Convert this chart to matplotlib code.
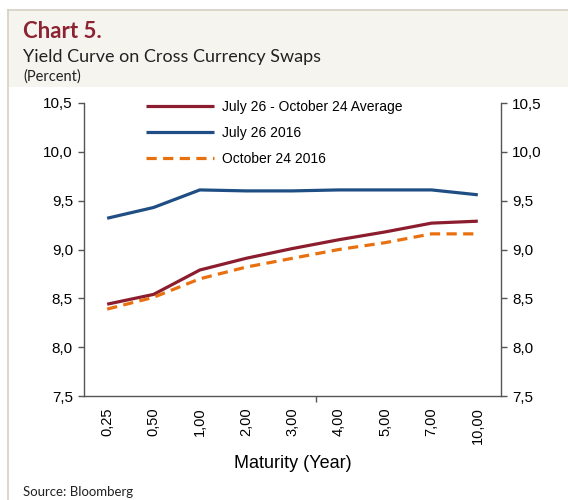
import matplotlib
matplotlib.use("Agg")
import matplotlib.pyplot as plt
from matplotlib.ticker import FuncFormatter
from matplotlib.patches import Rectangle
from matplotlib.lines import Line2D
import numpy as np

categories = ["0,25", "0,50", "1,00", "2,00", "3,00", "4,00", "5,00", "7,00", "10,00"]
avg_values = [8.44, 8.54, 8.79, 8.91, 9.01, 9.10, 9.18, 9.27, 9.29]
jul26_values = [9.32, 9.43, 9.61, 9.60, 9.60, 9.61, 9.61, 9.61, 9.56]
oct24_values = [8.39, 8.51, 8.70, 8.82, 8.91, 9.00, 9.07, 9.16, 9.16]
series_labels = ["July 26 - October 24 Average", "July 26 2016", "October 24 2016"]
y_ticks = [7.5, 8.0, 8.5, 9.0, 9.5, 10.0, 10.5]

plt.rcParams['font.family'] = ['Liberation Sans', 'DejaVu Sans']

W, H = 568, 500
fig = plt.figure(figsize=(W / 100, H / 100), dpi=100)
fig.patch.set_facecolor("white")

def fx(px):
    return px / W

def fy(py):
    return 1 - py / H

# background panels
beige = "#f6f4ee"
fig.add_artist(Rectangle((fx(8), fy(87)), fx(560), fy(10) - fy(87), transform=fig.transFigure,
                         facecolor=beige, edgecolor="none", zorder=0))
fig.add_artist(Line2D([fx(7.5), fx(7.5)], [fy(10), 0], transform=fig.transFigure,
                      color="#d6cfc3", lw=1.2))
fig.add_artist(Line2D([fx(7.5), 1], [fy(10), fy(10)], transform=fig.transFigure,
                      color="#d6cfc3", lw=1.2))

# titles
title_font = ["Lato", "DejaVu Sans"]
fig.text(fx(23), fy(31), "Chart 5.", color="#8c2232", fontsize=16, fontweight="bold",
         family=title_font, va="center", ha="left")
fig.text(fx(23), fy(57), "Yield Curve on Cross Currency Swaps", color="#222222", fontsize=13,
         family=title_font, va="center", ha="left")
fig.text(fx(23), fy(77), "(Percent)", color="#222222", fontsize=10.5,
         family=title_font, va="center", ha="left")
fig.text(fx(23), fy(492), "Source: Bloomberg", color="#222222", fontsize=9.5,
         family=title_font, va="center", ha="left")

ax = fig.add_axes([fx(84), fy(396), fx(501) - fx(84), fy(103) - fy(396)])
ax.set_facecolor("none")
x = np.arange(len(categories))

ax.plot(x, avg_values, color="#8c1d2e", lw=2.3, label=series_labels[0], solid_capstyle="butt")
ax.plot(x, jul26_values, color="#1f4e85", lw=2.3, label=series_labels[1], solid_capstyle="butt")
ax.plot(x, oct24_values, color="#e8700f", lw=2.3, ls=(0, (3.2, 2.0)), label=series_labels[2])

ax.set_xlim(-0.5, len(categories) - 0.5)
ax.set_ylim(7.5, 10.5)
ax.set_yticks(y_ticks)
fmt = FuncFormatter(lambda v, p: f"{v:.1f}".replace(".", ","))
ax.yaxis.set_major_formatter(fmt)

ax.set_xticks(x)
ax.set_xticklabels(categories, rotation=90, fontsize=10.5)
ax.set_xticks([4.5], minor=True)
ax.tick_params(axis="x", which="major", length=0, pad=8)
ax.tick_params(axis="x", which="minor", length=4, width=1, color="#555555", direction="out")
ax.tick_params(axis="y", length=4, width=1, color="#555555", labelsize=11, pad=4, direction="out")

for s in ["top", "right"]:
    ax.spines[s].set_visible(False)
for s in ["left", "bottom"]:
    ax.spines[s].set_color("#555555")
    ax.spines[s].set_linewidth(1)

ax2 = ax.twinx()
ax2.set_ylim(7.5, 10.5)
ax2.set_yticks(y_ticks)
ax2.yaxis.set_major_formatter(fmt)
ax2.tick_params(axis="y", length=4, width=1, color="#555555", labelsize=11, pad=4, direction="out")
for s in ["top", "left", "bottom"]:
    ax2.spines[s].set_visible(False)
ax2.spines["right"].set_color("#555555")
ax2.spines["right"].set_linewidth(1)

ax.set_xlabel("Maturity (Year)", fontsize=13, labelpad=8)

leg = ax.legend(loc="upper left", bbox_to_anchor=((148 - 84 - 2) / 417, 1.01), frameon=False,
                fontsize=10, handlelength=4.9, handletextpad=0.6, labelspacing=0.85, borderpad=0,
                borderaxespad=0)

fig.savefig("out.png", dpi=100)
